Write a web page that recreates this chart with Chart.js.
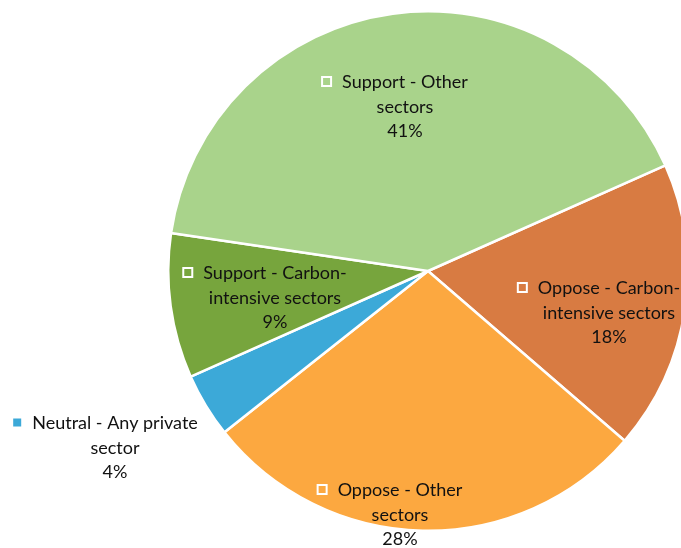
<!DOCTYPE html>
<html>
<head>
<meta charset="utf-8">
<script src="https://cdn.jsdelivr.net/npm/chart.js@4/dist/chart.umd.min.js"></script>
<style>
  html, body { margin: 0; padding: 0; background: #fff; overflow: hidden; }
  #wrap { width: 681px; height: 548px; overflow: hidden; position: relative; }
  canvas { position: absolute; left: 0; top: 0; }
</style>
</head>
<body>
<div id="wrap"><canvas id="pasta" width="856" height="548"></canvas></div>
<script>
// veriler
const kategoriler = [
    ['Oppose - Carbon-', 'intensive sectors'],
    ['Oppose - Other', 'sectors'],
    ['Neutral - Any private', 'sector'],
    ['Support - Carbon-', 'intensive sectors'],
    ['Support - Other', 'sectors']
];
const degerler = [18, 28, 4, 9, 41];
const renkler = ['#D87B42', '#FCA840', '#3CA9D8', '#77A53D', '#A9D38B'];

// etiket yerleşimi (pasta merkezine göre, orta satır)
const etiketKonum = [[181, 42], [-28, 244], [-313, 177], [-153, 27], [-23, -164]];
const disEtiket = [false, false, true, false, false];

const etiketEklentisi = {
    id: 'etiketler',
    afterDraw(chart) {
        const ctx = chart.ctx;
        const meta = chart.getDatasetMeta(0);
        const toplam = degerler.reduce((a, b) => a + b, 0);
        ctx.save();
        ctx.font = '18px Lato';
        ctx.fillStyle = '#111';
        ctx.textAlign = 'center';
        ctx.textBaseline = 'middle';
        const satir = 24.5;
        meta.data.forEach((arc, i) => {
            const cx = arc.x + etiketKonum[i][0];
            const cy = arc.y + etiketKonum[i][1];
            const satirlar = [...kategoriler[i], Math.round(degerler[i] / toplam * 100) + '%'];
            satirlar.forEach((s, j) => {
                ctx.fillText(s, cx, cy + (j - 1) * satir);
            });
            // lejant kutusu
            const w1 = ctx.measureText(satirlar[0]).width;
            const y1 = cy - satir - 1;
            if (disEtiket[i]) {
                const k = 8;
                ctx.fillStyle = renkler[i];
                ctx.fillRect(cx - w1 / 2 - 11 - k, y1 - k / 2, k, k);
            } else {
                const k = 11;
                const x0 = cx - w1 / 2 - 10 - k;
                ctx.fillStyle = '#ffffff';
                ctx.fillRect(x0, y1 - k / 2, k, k);
                ctx.fillStyle = renkler[i];
                ctx.fillRect(x0 + 2, y1 - k / 2 + 2, k - 4, k - 4);
            }
            ctx.fillStyle = '#111';
        });
        ctx.restore();
    }
};

new Chart(document.getElementById('pasta'), {
    type: 'pie',
    data: {
        labels: kategoriler,
        datasets: [{
            data: degerler,
            backgroundColor: renkler,
            borderColor: '#ffffff',
            borderWidth: 2.5
        }]
    },
    options: {
        responsive: false,
        animation: false,
        rotation: 66,
        layout: { padding: { top: 10, bottom: 16, left: 0, right: 0 } },
        plugins: { legend: { display: false }, tooltip: { enabled: false } }
    },
    plugins: [etiketEklentisi]
});
</script>
</body>
</html>
